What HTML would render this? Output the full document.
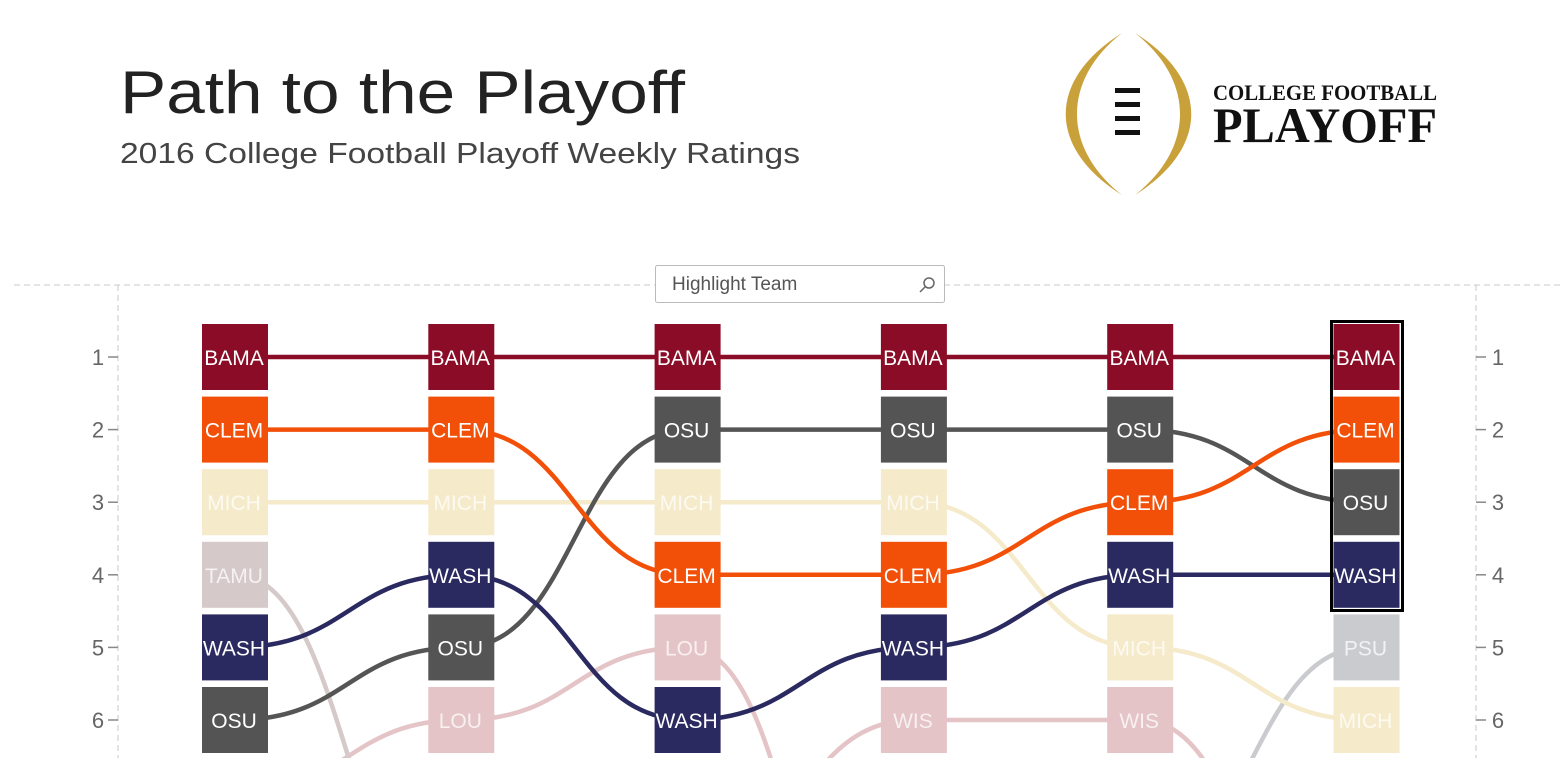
<!DOCTYPE html>
<html><head><meta charset="utf-8"><style>
html,body{margin:0;padding:0;background:#fff;width:1564px;height:758px;overflow:hidden;font-family:"Liberation Sans",sans-serif}
svg{display:block}
svg text{font-family:"Liberation Sans",sans-serif}
</style></head><body>
<svg id="chart" width="1564" height="758" viewBox="0 0 1564 758" xmlns="http://www.w3.org/2000/svg">
<text x="120" y="113" font-size="60" fill="#222" textLength="565" lengthAdjust="spacingAndGlyphs">Path to the Playoff</text>
<text x="120" y="163" font-size="29" fill="#444" textLength="680" lengthAdjust="spacingAndGlyphs">2016 College Football Playoff Weekly Ratings</text>
<g>
<path d="M1122 33 C1047 80 1047 148 1122 195 C1062 148 1062 80 1122 33Z" fill="#c9a13a"/>
<path d="M1135 33 C1210 80 1210 148 1135 195 C1195 148 1195 80 1135 33Z" fill="#c9a13a"/>
<rect x="1115" y="88" width="25" height="5" fill="#111"/><rect x="1115" y="102" width="25" height="5" fill="#111"/>
<rect x="1115" y="116" width="25" height="5" fill="#111"/><rect x="1115" y="130" width="25" height="5" fill="#111"/>
<text x="1213" y="100" font-size="22" font-weight="bold" fill="#111" textLength="224" lengthAdjust="spacingAndGlyphs" style="font-family:'Liberation Serif',serif">COLLEGE FOOTBALL</text>
<text x="1213" y="142" font-size="50" font-weight="bold" fill="#111" textLength="224" lengthAdjust="spacingAndGlyphs" style="font-family:'Liberation Serif',serif">PLAYOFF</text>
</g>
<line x1="14" y1="285" x2="1564" y2="285" stroke="#c8c8c8" stroke-dasharray="6,4"/>
<line x1="118" y1="285" x2="118" y2="758" stroke="#c8c8c8" stroke-dasharray="6,4"/>
<line x1="1476" y1="285" x2="1476" y2="758" stroke="#c8c8c8" stroke-dasharray="6,4"/>
<g>
<rect x="655.5" y="265.5" width="289" height="37" fill="#fff" stroke="#bbb" rx="2"/>
<text x="672" y="290" font-size="19" fill="#555">Highlight Team</text>
<circle cx="929" cy="283" r="5" fill="none" stroke="#666" stroke-width="1.5"/>
<line x1="925" y1="287" x2="920" y2="292" stroke="#666" stroke-width="1.5"/>
</g>
<g id="axes"></g><g id="lines"></g><g id="boxes"></g>
<rect x="1331.5" y="321.5" width="71" height="289" fill="none" stroke="#000" stroke-width="3"/>
</svg>
<script>
const weeks=["W1","W2","W3","W4","W5","W6"];
const teams=["BAMA","CLEM","MICH","TAMU","WASH","OSU","LOU","WIS","PSU"];
const rankBAMA=[1,1,1,1,1,1];
const rankCLEM=[2,2,4,4,3,2];
const rankMICH=[3,3,3,3,5,6];
const rankTAMU=[4,9,null,null,null,null];
const rankWASH=[5,4,6,5,4,4];
const rankOSU=[6,5,2,2,2,3];
const rankLOU=[7,6,5,11,null,null];
const rankWIS=[null,null,8,6,6,10];
const rankPSU=[null,null,null,null,8,5];
const rankTicks=[1,2,3,4,5,6,7,8];
const ranks={BAMA:rankBAMA,CLEM:rankCLEM,MICH:rankMICH,TAMU:rankTAMU,WASH:rankWASH,OSU:rankOSU,LOU:rankLOU,WIS:rankWIS,PSU:rankPSU};
const fill={BAMA:"#8b0c26",CLEM:"#f25008",MICH:"#f5eaca",TAMU:"#d5c9c9",WASH:"#2b2a60",OSU:"#545454",LOU:"#e4c4c6",WIS:"#e4c4c6",PSU:"#c9cbce"};
const lineCol={BAMA:"#8b0c26",CLEM:"#f25008",MICH:"#f5eaca",TAMU:"#d5c9c9",WASH:"#2b2a60",OSU:"#555",LOU:"#e4c4c6",WIS:"#e4c4c6",PSU:"#c9cbce"};
const xS=i=>235+i*226.3;
const yS=r=>357+(r-1)*72.6;
const NS="http://www.w3.org/2000/svg";
function mk(t,a,p){const e=document.createElementNS(NS,t);for(const k in a)e.setAttribute(k,a[k]);p.appendChild(e);return e;}
const ax=document.getElementById('axes'),lg=document.getElementById('lines'),bg=document.getElementById('boxes');
rankTicks.forEach(r=>{
 const y=yS(r);
 let t=mk('line',{x1:108,y1:y,x2:118,y2:y,stroke:'#888','stroke-width':1.5},ax);
 
 
 let l=mk('text',{x:98,y:y+8,'font-size':22,fill:'#666','text-anchor':'middle'},ax);l.textContent=r;
 
 
 t=mk('line',{x1:1476,y1:y,x2:1486,y2:y,stroke:'#888','stroke-width':1.5},ax);
 
 
 l=mk('text',{x:1498,y:y+8,'font-size':22,fill:'#666','text-anchor':'middle'},ax);l.textContent=r;
 
 
});
const order=["LOU","WIS","PSU","TAMU","MICH","OSU","WASH","CLEM","BAMA"];
order.forEach(tm=>{
 const r=ranks[tm];
 for(let i=0;i<r.length-1;i++){
  if(r[i]==null||r[i+1]==null)continue;
  const x1=xS(i),x2=xS(i+1),y1=yS(r[i]),y2=yS(r[i+1]),m=(x1+x2)/2;
  const p=mk('path',{d:`M${x1} ${y1} C${m} ${y1} ${m} ${y2} ${x2} ${y2}`,fill:'none',stroke:lineCol[tm],'stroke-width':4.5},lg);
  
  
 }
});
teams.forEach(tm=>{
 ranks[tm].forEach((r,i)=>{
  if(r==null)return;
  const g=mk('g',{},bg);
  
  
  mk('rect',{x:xS(i)-33,y:yS(r)-33,width:66,height:66,fill:fill[tm]},g);
  const t=mk('text',{x:xS(i)-1,y:yS(r)+8,'font-size':21,fill:'#fff','fill-opacity':['MICH','TAMU','LOU','WIS','PSU'].includes(tm)?0.75:1,'text-anchor':'middle'},g);
  t.textContent=tm;
 });
});
</script>
</body></html>
